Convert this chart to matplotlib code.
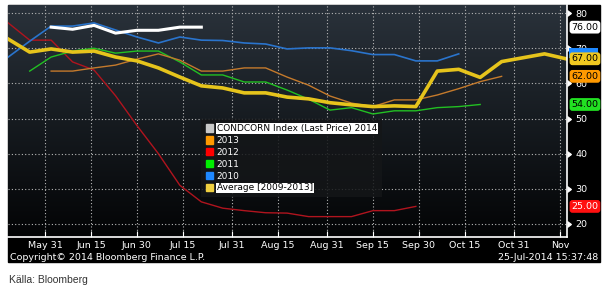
import numpy as np
import matplotlib
matplotlib.use("Agg")
import matplotlib.pyplot as plt
from matplotlib.patches import Rectangle, Patch
from matplotlib import markers
import matplotlib.transforms as mtransforms

# === DATA (weekly crop condition, % good/excellent) ===
weeks = ["2014-05-19", "2014-05-26", "2014-06-02", "2014-06-09", "2014-06-16",
         "2014-06-23", "2014-06-30", "2014-07-07", "2014-07-14", "2014-07-21",
         "2014-07-28", "2014-08-04", "2014-08-11", "2014-08-18", "2014-08-25",
         "2014-09-01", "2014-09-08", "2014-09-15", "2014-09-22", "2014-09-29",
         "2014-10-06", "2014-10-13", "2014-10-20", "2014-10-27", "2014-11-03",
         "2014-11-10", "2014-11-17"]

y2014 = [76.0, 75.4, 76.5, 74.3, 75.1, 75.1, 76.0, 76.0]          # from Jun 2
y2013 = [63.5, 63.5, 64.4, 65.2, 66.9, 68.4, 66.6, 63.5, 63.5, 64.4,
         64.4, 61.8, 59.5, 56.4, 54.4, 53.4, 55.3, 55.3, 56.7, 58.5,
         60.5, 62.0]                                                # from Jun 2
y2012 = [77.2, 72.3, 72.3, 66.1, 63.8, 56.5, 48.0, 40.0, 31.0, 26.3,
         24.5, 23.8, 23.2, 23.1, 22.1, 22.1, 22.1, 23.8, 23.8, 25.0]  # from May 19
y2011 = [63.5, 67.5, 69.2, 70.0, 68.6, 69.2, 69.2, 66.1, 62.4, 62.4,
         60.4, 60.4, 58.1, 55.5, 52.4, 53.1, 51.3, 52.2, 52.2, 53.1,
         53.4, 54.0]                                                # from May 26
y2010 = [67.5, 72.0, 76.3, 76.3, 77.2, 75.2, 73.2, 71.5, 73.2, 72.3,
         72.2, 71.5, 71.2, 69.8, 70.1, 70.1, 69.3, 68.2, 68.2, 66.4,
         66.4, 68.4]                                                # from May 19
avg = [72.6, 68.9, 69.8, 68.9, 69.2, 67.5, 66.4, 64.4, 61.8, 59.3,
       58.7, 57.3, 57.3, 56.1, 55.6, 54.5, 53.9, 53.4, 53.6, 53.4,
       63.5, 64.0, 61.7, 66.2, 67.3, 68.4, 67.0]                    # from May 19

tick_dates = ["2014-05-31", "2014-06-15", "2014-06-30", "2014-07-15", "2014-07-31",
              "2014-08-15", "2014-08-31", "2014-09-15", "2014-09-30", "2014-10-15",
              "2014-10-31", "2014-11-15"]
tick_labels = ["May 31", "Jun 15", "Jun 30", "Jul 15", "Jul 31", "Aug 15",
               "Aug 31", "Sep 15", "Sep 30", "Oct 15", "Oct 31", "Nov"]

W = np.array(weeks, dtype="datetime64[D]")

# === FIGURE ===
fig = plt.figure(figsize=(6.07, 2.91), dpi=100)
fig.patch.set_facecolor("white")
px = lambda v: v / 607
py = lambda v: 1 - v / 291

# black Bloomberg panel
fig.add_artist(Rectangle((px(8), py(262)), px(600 - 8), (262 - 5) / 291,
                         transform=fig.transFigure, color="black", zorder=0))

pos = [px(8), py(237), px(567 - 8), (237 - 5) / 291]
bg = fig.add_axes(pos, zorder=0)
grad = np.linspace(0, 1, 256).reshape(-1, 1)
cmap = matplotlib.colors.LinearSegmentedColormap.from_list("bb", ["#030405", "#161b20", "#2a323b"])
bg.imshow(grad, aspect="auto", cmap=cmap, origin="lower", extent=[0, 1, 0, 1])
bg.axis("off")

ax = fig.add_axes(pos, zorder=1)
ax.set_facecolor("none")

ax.plot(W[0:20], y2012, color="#b0141e", lw=1.0)
ax.plot(W[1:23], y2011, color="#22c022", lw=1.0)
ax.plot(W[0:22], y2010, color="#2a74cc", lw=1.2)
ax.plot(W[2:24], y2013, color="#c47a2c", lw=1.0)
ax.plot(W[0:27], avg, color="#e6c41c", lw=2.6)
ax.plot(W[2:10], y2014, color="white", lw=2.2)

ax.set_xlim(np.datetime64("2014-05-18T22:00"), np.datetime64("2014-11-17T08:00"))
ax.set_ylim(16.3, 82.3)

ax.set_xticks(np.array(tick_dates, dtype="datetime64[D]"))
ax.set_xticklabels(tick_labels)
ax.set_yticks([20, 30, 40, 50, 60, 70, 80])
ax.yaxis.tick_right()
ax.tick_params(axis="x", colors="white", labelsize=6.8, direction="in", length=4, pad=3)
ax.tick_params(axis="y", colors="white", labelsize=6.8, length=0, pad=6)
for t in ax.yaxis.get_major_ticks():
    t.tick2line.set_marker(markers.CARETRIGHTBASE)
    t.tick2line.set_markersize(4)
    t.tick2line.set_color("white")

ax.grid(True, color="#b8b8b8", linestyle=(0, (1, 2)), linewidth=0.8)
for s in ["top", "left"]:
    ax.spines[s].set_visible(False)
ax.spines["bottom"].set_color("white")
ax.spines["right"].set_color("white")
ax.spines["bottom"].set_linewidth(1.2)
ax.spines["right"].set_linewidth(1.2)

# legend
handles = [Patch(color="#c8c8c8"), Patch(color="#ff9900"), Patch(color="#ff0000"),
           Patch(color="#00ee00"), Patch(color="#1e88ff"), Patch(color="#f0d040")]
names = ["CONDCORN Index (Last Price) 2014", "2013", "2012", "2011", "2010",
         "Average [2009-2013]"]
leg = ax.legend(handles, names, loc="upper left", bbox_to_anchor=(0.338, 0.526),
                fontsize=6.5, handlelength=0.8, handleheight=0.9, handletextpad=0.4,
                labelspacing=0.32, borderpad=0.5, frameon=True, fancybox=False)
leg.get_frame().set_facecolor("#141618")
leg.get_frame().set_alpha(0.85)
leg.get_frame().set_edgecolor("none")
for i, txt in enumerate(leg.get_texts()):
    if i in (0, 5):
        txt.set_color("black")
        txt.set_bbox(dict(facecolor="white", edgecolor="none", pad=0.6))
    else:
        txt.set_color("white")

# last value tags on right axis
trans = mtransforms.blended_transform_factory(ax.transAxes, ax.transData)
# 2010 tag, almost fully hidden behind the average tag
ax.add_patch(Rectangle((1.004, 67.2), 0.052, 3.0, transform=trans, facecolor="#1e88ff",
                       edgecolor="none", clip_on=False, zorder=4))
tags = [(76.0, "76.00", "white", "black"),
        (67.0, "67.00", "#f0c820", "black"),
        (62.0, "62.00", "#ff9900", "black"),
        (54.0, "54.00", "#22e022", "black"),
        (25.0, "25.00", "#ff1010", "white")]
for v, lab, fc, tc in tags:
    ax.text(1.008, v, lab, transform=trans, fontsize=6.8, color=tc, va="center", ha="left",
            clip_on=False, zorder=5,
            bbox=dict(boxstyle="round,pad=0.2,rounding_size=0.3", facecolor=fc, edgecolor="none"))

fig.text(px(10), py(257), "Copyright\u00a9 2014 Bloomberg Finance L.P.", color="white",
         fontsize=6.8, va="center", ha="left")
fig.text(px(598), py(257), "25-Jul-2014 15:37:48", color="white",
         fontsize=6.8, va="center", ha="right")
fig.text(px(9), py(280), "Källa: Bloomberg", color="#333333", fontsize=7.5,
         family="Liberation Sans", va="center", ha="left")

fig.savefig("out.png", dpi=100, facecolor="white")
